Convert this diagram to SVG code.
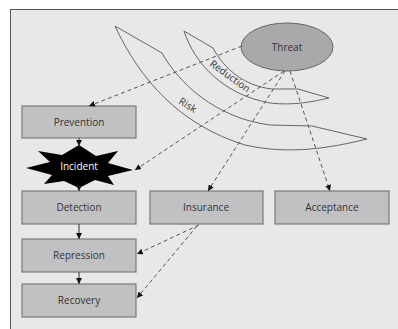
<svg xmlns="http://www.w3.org/2000/svg" width="398" height="329" viewBox="0 0 398 329">
<defs>
<marker id="ah" markerUnits="userSpaceOnUse" markerWidth="6" markerHeight="6" refX="6" refY="3" orient="auto">
<path d="M0,0 L6,3 L0,6 z" fill="#111"/>
</marker>
<style>
.box{fill:#c1c1c3;stroke:#7a7a7a;stroke-width:1.2}
.lbl{font-family:"Open Sans","DejaVu Sans",sans-serif;font-size:10px;fill:#333;text-anchor:middle}
.dash{fill:none;stroke:#555;stroke-width:1;stroke-dasharray:4,3;marker-end:url(#ah)}
.solid{fill:none;stroke:#333;stroke-width:1;marker-end:url(#ah)}
.band{fill:none;stroke:#666;stroke-width:1}
</style>
</defs>
<rect x="0" y="0" width="398" height="329" fill="#fff"/>
<rect x="10.5" y="9.5" width="400" height="330" fill="#e8e8e9" stroke="#555" stroke-width="1"/>

<g id="bands">
<path class="band" d="M115,26 L162,53 C178,82 215,118 270,125 L312,126 L367,139"/>
<path class="band" d="M115,26 C140,80 180,125 245,145 C290,155 330,148 367,139"/>
<path class="band" d="M184,31 L213,48 C225,70 245,86 272,89 L298,89 L329,98"/>
<path class="band" d="M184,31 C195,65 225,95 270,103 C295,106 315,101 329,98"/>
<text class="lbl" x="0" y="0" font-size="9" transform="translate(228,79) rotate(36)">Reduction</text>
<text class="lbl" x="0" y="0" font-size="9" transform="translate(186,108) rotate(32)">Risk</text>
</g>

<g id="threat">
<ellipse cx="287" cy="47" rx="46" ry="24" fill="#a9a9ab" stroke="#666" stroke-width="1"/>
<text class="lbl" x="287" y="51">Threat</text>
</g>

<g id="prevention">
<rect class="box" x="22" y="106" width="114" height="32"/>
<text class="lbl" x="79" y="126">Prevention</text>
</g>

<g id="incident">
<polygon points="79,145 96,156 118,151 108,163 133,170 108,176 114,185 95,180 79,188 64,181 44,184 52,175 26,168 50,162 38,151 62,155" fill="#000"/>
<text class="lbl" x="79" y="170" fill="#fff" style="fill:#fff">Incident</text>
</g>

<g id="detection">
<rect class="box" x="22" y="191" width="114" height="33"/>
<text class="lbl" x="79" y="211">Detection</text>
</g>

<g id="insurance">
<rect class="box" x="150" y="191" width="113" height="33"/>
<text class="lbl" x="206" y="211">Insurance</text>
</g>

<g id="acceptance">
<rect class="box" x="275" y="191" width="114" height="33"/>
<text class="lbl" x="332" y="211">Acceptance</text>
</g>

<g id="repression">
<rect class="box" x="22" y="239" width="114" height="33"/>
<text class="lbl" x="79" y="259">Repression</text>
</g>

<g id="recovery">
<rect class="box" x="22" y="284" width="114" height="33"/>
<text class="lbl" x="79" y="304">Recovery</text>
</g>

<g id="connectors">
<line class="solid" x1="79" y1="138" x2="79" y2="146"/>
<line class="solid" x1="79" y1="187" x2="79" y2="191"/>
<line class="solid" x1="79" y1="224" x2="79" y2="239"/>
<line class="solid" x1="79" y1="272" x2="79" y2="284"/>
<line class="dash" x1="242" y1="46" x2="89" y2="106"/>
<line class="dash" x1="284" y1="71" x2="135" y2="170"/>
<line class="dash" x1="285" y1="71" x2="208" y2="191"/>
<line class="dash" x1="290" y1="71" x2="330" y2="191"/>
<line class="dash" x1="199" y1="225" x2="137" y2="254"/>
<line class="dash" x1="197" y1="226" x2="137" y2="298"/>
</g>
</svg>
